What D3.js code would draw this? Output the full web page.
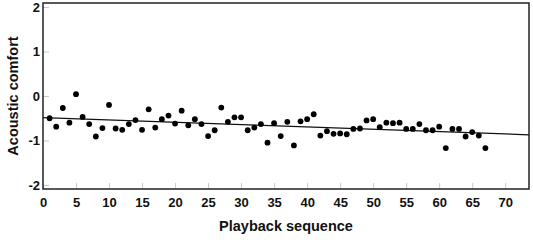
<!DOCTYPE html>
<html>
<head>
<meta charset="utf-8">
<script src="https://cdn.jsdelivr.net/npm/d3@7"></script>
<style>
  body { margin: 0; background: #fff; }
  .canvas text { font-family: "Liberation Sans", Arial, sans-serif; font-weight: bold; }
</style>
</head>
<body>
<div class="canvas"></div>
<script>
// data: playback index and comfort score
const sequence = d3.range(1, 68);
const comfort = [
  -0.50, -0.69, -0.27, -0.60, 0.04, -0.47, -0.63, -0.91, -0.72, -0.20,
  -0.73, -0.76, -0.63, -0.54, -0.76, -0.30, -0.71, -0.52, -0.44, -0.62,
  -0.33, -0.66, -0.52, -0.63, -0.90, -0.77, -0.26, -0.58, -0.48, -0.48,
  -0.77, -0.71, -0.63, -1.05, -0.61, -0.90, -0.58, -1.11, -0.57, -0.52,
  -0.41, -0.89, -0.79, -0.85, -0.84, -0.86, -0.74, -0.73, -0.55, -0.52,
  -0.70, -0.60, -0.61, -0.60, -0.74, -0.74, -0.63, -0.77, -0.77, -0.69,
  -1.17, -0.74, -0.74, -0.91, -0.81, -0.89, -1.17
];
const xTicks = d3.range(0, 71, 5);
const yTicks = [-2, -1, 0, 1, 2];

const width = 533, height = 240;
const margin = {top: 3, right: 4, bottom: 51, left: 43};
const graphWidth = width - margin.left - margin.right;
const graphHeight = height - margin.top - margin.bottom;

const svg = d3.select('.canvas')
  .append('svg')
    .attr('width', width)
    .attr('height', height);

const graph = svg.append('g')
  .attr('transform', `translate(${margin.left}, ${margin.top})`);

const x = d3.scaleLinear().domain([0, 73.6]).range([0, graphWidth]);
const y = d3.scaleLinear().domain([-2.09, 2.09]).range([graphHeight, 0]);

// inward ticks, light grey
const xAxis = d3.axisBottom(x).tickValues(xTicks).tickSize(-6).tickPadding(9);
const yAxis = d3.axisLeft(y).tickValues(yTicks).tickSize(-6).tickPadding(4)
  .tickFormat(d => d);

const xAxisGroup = graph.append('g')
  .attr('transform', `translate(0, ${graphHeight})`)
  .call(xAxis);
const yAxisGroup = graph.append('g').call(yAxis);

[xAxisGroup, yAxisGroup].forEach(g => {
  g.select('.domain').remove();
  g.selectAll('.tick line').attr('stroke', '#c8c8c8').attr('stroke-width', 1);
  g.selectAll('.tick text')
    .attr('fill', '#111')
    .style('font-size', '13px')
    .style('font-weight', 'bold')
    .style('font-family', '"Liberation Sans", Arial, sans-serif');
});
yAxisGroup.selectAll('.tick text').attr('x', -3);

// frame
graph.append('rect')
  .attr('width', graphWidth)
  .attr('height', graphHeight)
  .attr('fill', 'none')
  .attr('stroke', '#222')
  .attr('stroke-width', 1.5);

// least squares fit of the points
const mx = d3.mean(sequence), my = d3.mean(comfort);
let sxy = 0, sxx = 0;
sequence.forEach((s, i) => {
  sxy += (s - mx) * (comfort[i] - my);
  sxx += (s - mx) * (s - mx);
});
const slope = sxy / sxx;
const intercept = my - slope * mx;
const ends = x.domain();

graph.append('line')
  .attr('x1', x(ends[0])).attr('y1', y(intercept + slope * ends[0]))
  .attr('x2', x(ends[1])).attr('y2', y(intercept + slope * ends[1]))
  .attr('stroke', '#111')
  .attr('stroke-width', 1.3);

graph.selectAll('circle')
  .data(sequence)
  .enter()
  .append('circle')
    .attr('cx', d => x(d))
    .attr('cy', (d, i) => y(comfort[i]))
    .attr('r', 2.9)
    .attr('fill', '#000');

// axis titles
svg.append('text')
  .attr('x', margin.left + graphWidth / 2)
  .attr('y', 231)
  .attr('text-anchor', 'middle')
  .style('font-size', '14.5px')
  .attr('fill', '#111')
  .text('Playback sequence');

svg.append('text')
  .attr('transform', `translate(18, ${margin.top + graphHeight / 2}) rotate(-90)`)
  .attr('text-anchor', 'middle')
  .style('font-size', '14.5px')
  .attr('fill', '#111')
  .text('Acoustic comfort');
</script>
</body>
</html>
